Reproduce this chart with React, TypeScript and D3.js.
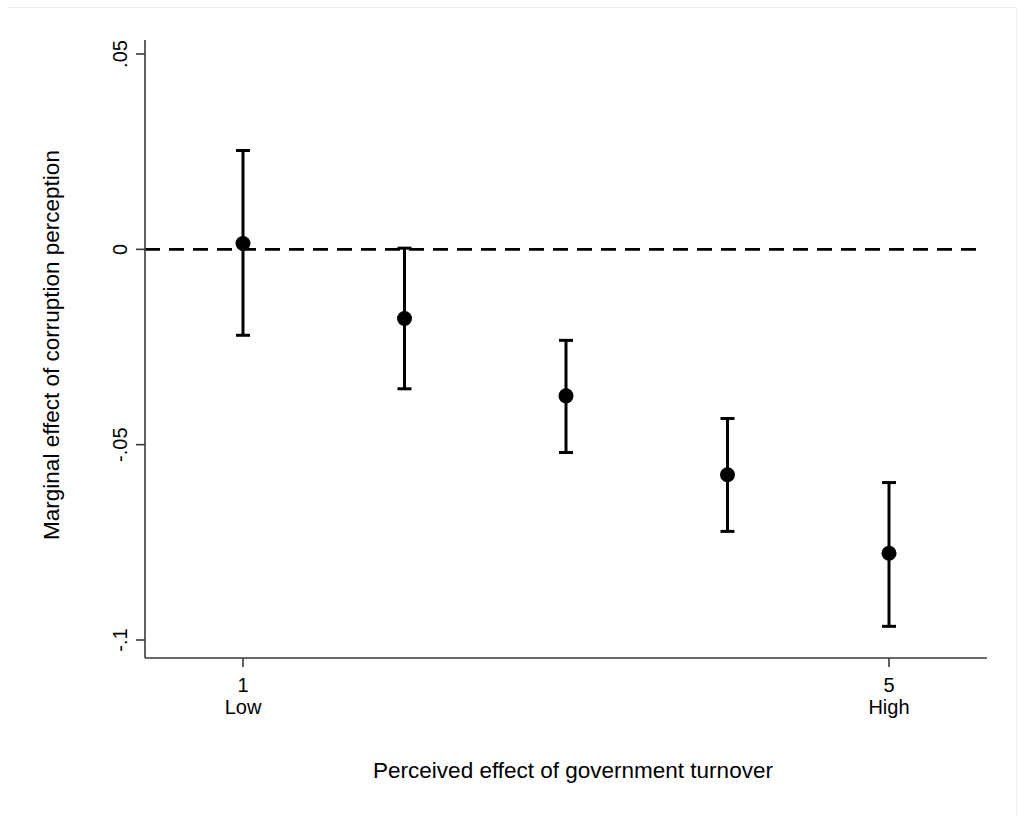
import * as d3 from 'd3';
import * as React from 'react';

const levels = [1, 2, 3, 4, 5];
const estimates = [0.0015, -0.0177, -0.0375, -0.0577, -0.0778];
const upper = [0.0253, 0.0003, -0.0233, -0.0433, -0.0597];
const lower = [-0.022, -0.0357, -0.052, -0.0722, -0.0965];
const yTicks = [0.05, 0, -0.05, -0.1];
const yTickLabels = ['.05', '0', '-.05', '-.1'];
const xTicks = [1, 5];
const xTickLabels = ['Low', 'High'];

const width = 1024;
const height = 823;
const font = '"Liberation Sans", Arial, sans-serif';

export default function App() {
  const x = d3.scaleLinear().domain([1, 5]).range([243, 889]);
  const y = d3.scaleLinear().domain([-0.1, 0.05]).range([640, 54]);
  const axisColor = '#3a3a3a';
  const left = 145;
  const right = 987;
  const top = 40;
  const bottom = 658;
  const cap = 7;

  return (
    <svg
      width={width}
      height={height}
      style={{ position: 'absolute', left: 0, top: 0, background: '#fff' }}
    >
      <line x1={8} y1={7.5} x2={1016} y2={7.5} stroke="#ececec" />
      <line x1={1016.5} y1={7} x2={1016.5} y2={816} stroke="#ececec" />

      {/* zero reference */}
      <line
        x1={left}
        x2={984}
        y1={y(0)}
        y2={y(0)}
        stroke="#000"
        strokeWidth={2.6}
        strokeDasharray="15,9"
      />

      {/* axes */}
      <line x1={left} x2={left} y1={top} y2={bottom} stroke={axisColor} strokeWidth={1.6} />
      <line x1={left} x2={right} y1={bottom} y2={bottom} stroke={axisColor} strokeWidth={1.6} />

      {yTicks.map((t, i) => (
        <g key={'y' + i}>
          <line x1={left - 9} x2={left} y1={y(t)} y2={y(t)} stroke={axisColor} strokeWidth={1.6} />
          <text
            transform={`translate(${left - 18},${y(t)}) rotate(-90)`}
            textAnchor="middle"
            fontFamily={font}
            fontSize={20}
            fill="#000"
          >
            {yTickLabels[i]}
          </text>
        </g>
      ))}

      {xTicks.map((t, i) => (
        <g key={'x' + i}>
          <line x1={x(t)} x2={x(t)} y1={bottom} y2={bottom + 9} stroke={axisColor} strokeWidth={1.6} />
          <text x={x(t)} y={692} textAnchor="middle" fontFamily={font} fontSize={20} fill="#000">
            {t}
          </text>
          <text x={x(t)} y={714} textAnchor="middle" fontFamily={font} fontSize={20} fill="#000">
            {xTickLabels[i]}
          </text>
        </g>
      ))}

      {/* error bars */}
      {levels.map((lv, i) => (
        <g key={'e' + i}>
          <line x1={x(lv)} x2={x(lv)} y1={y(upper[i])} y2={y(lower[i])} stroke="#000" strokeWidth={3} />
          <line x1={x(lv) - cap} x2={x(lv) + cap} y1={y(upper[i])} y2={y(upper[i])} stroke="#000" strokeWidth={3} />
          <line x1={x(lv) - cap} x2={x(lv) + cap} y1={y(lower[i])} y2={y(lower[i])} stroke="#000" strokeWidth={3} />
          <circle cx={x(lv)} cy={y(estimates[i])} r={7.5} fill="#000" />
        </g>
      ))}

      <text
        transform={`translate(59,${(top + bottom) / 2 - 4}) rotate(-90)`}
        textAnchor="middle"
        fontFamily={font}
        fontSize={22.5}
        fill="#000"
      >
        Marginal effect of corruption perception
      </text>
      <text x={573} y={778} textAnchor="middle" fontFamily={font} fontSize={22.5} fill="#000">
        Perceived effect of government turnover
      </text>
    </svg>
  );
}
